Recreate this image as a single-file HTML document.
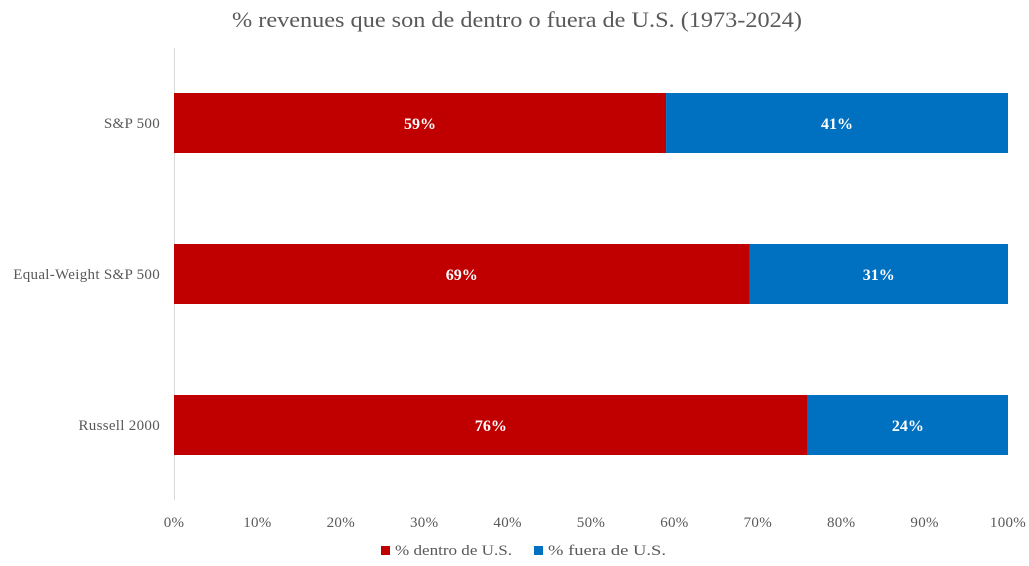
<!DOCTYPE html>
<html><head><meta charset="utf-8"><style>
body{margin:0;background:#fff;width:1029px;height:561px;overflow:hidden;font-family:"Liberation Serif",serif;}
</style></head><body>
<svg width="1029" height="561" xmlns="http://www.w3.org/2000/svg">
<text x="517" y="27" text-anchor="middle" font-size="22" fill="#595959" textLength="570" lengthAdjust="spacingAndGlyphs">% revenues que son de dentro o fuera de U.S. (1973-2024)</text>
<line x1="174.5" y1="48" x2="174.5" y2="500" stroke="#d9d9d9"/>
<g id="bars"></g>
<g id="xticks"></g>
<g>
<rect x="381" y="546" width="9" height="9" fill="#C00000"/>
<text x="395" y="555" font-size="15" fill="#595959" textLength="117" lengthAdjust="spacingAndGlyphs">% dentro de U.S.</text>
<rect x="534" y="546" width="9" height="9" fill="#0070C0"/>
<text x="548" y="555" font-size="15" fill="#595959" textLength="118" lengthAdjust="spacingAndGlyphs">% fuera de U.S.</text>
</g>
</svg>
<script>
const categories=["S&P 500","Equal-Weight S&P 500","Russell 2000"];
const dentro=[59,69,76];
const fuera=[41,31,24];
const ticks=[0,10,20,30,40,50,60,70,80,90,100];
const NS="http://www.w3.org/2000/svg";
const x0=174,x1=1008;
const xs=v=>x0+(x1-x0)*v/100;
const barH=60;
const bars=document.getElementById('bars');
function mk(tag,attrs,parent){const e=document.createElementNS(NS,tag);for(const k in attrs)e.setAttribute(k,attrs[k]);parent.appendChild(e);return e;}
categories.forEach((c,i)=>{
 const cy=123+151*i;
 const r1=mk('rect',{x:xs(0),y:cy-barH/2,width:xs(dentro[i])-xs(0),height:barH,fill:'#C00000'},bars);
 
 
 const r2=mk('rect',{x:xs(dentro[i]),y:cy-barH/2,width:xs(dentro[i]+fuera[i])-xs(dentro[i]),height:barH,fill:'#0070C0'},bars);
 
 
 const t1=mk('text',{x:(xs(0)+xs(dentro[i]))/2,y:cy+6,'text-anchor':'middle','font-size':16,'font-weight':'bold',fill:'#fff'},bars);
 t1.textContent=dentro[i]+'%';
 
 
 const t2=mk('text',{x:(xs(dentro[i])+xs(dentro[i]+fuera[i]))/2,y:cy+6,'text-anchor':'middle','font-size':16,'font-weight':'bold',fill:'#fff'},bars);
 t2.textContent=fuera[i]+'%';
 
 
 const cl=mk('text',{x:160,y:cy+5,'text-anchor':'end','font-size':15,fill:'#595959','letter-spacing':'0.3'},bars);
 cl.textContent=c;
 
 
});
const xt=document.getElementById('xticks');
ticks.forEach(t=>{
 const e=mk('text',{x:xs(t),y:527,'text-anchor':'middle','font-size':15,fill:'#595959','letter-spacing':'0.3'},xt);
 e.textContent=t+'%';
 
 
});
</script>
</body></html>
